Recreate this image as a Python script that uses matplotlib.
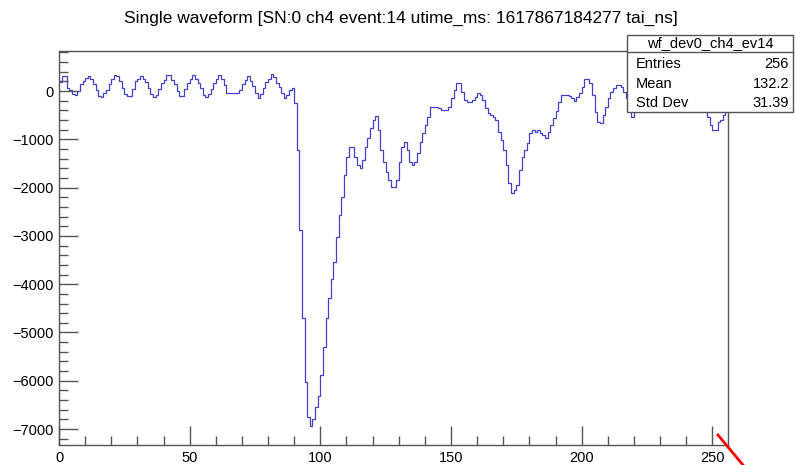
import numpy as np
import matplotlib
matplotlib.use('Agg')
import matplotlib.pyplot as plt
from matplotlib.patches import Rectangle
from matplotlib.lines import Line2D
from matplotlib.ticker import MultipleLocator

plt.rcParams['font.family'] = ['Liberation Sans', 'DejaVu Sans']

# ADC counts per sample (256 bins)
adc = [
    190, 320, 320, 60, 20, -60, -90, 0, 150, 200,                # 0
    280, 320, 250, 150, 20, -100, -130, -40, 30, 150,            # 10
    250, 330, 320, 200, 70, -60, -110, -110, 40, 200,            # 20
    240, 310, 250, 180, 60, -70, -120, -80, 50, 160,             # 30
    230, 330, 330, 220, 140, 0, -110, -100, 40, 160,             # 40
    240, 330, 260, 160, 60, -80, -130, -60, 50, 170,             # 50
    250, 330, 250, 130, -30, -50, -50, -50, -50, 20,             # 60
    150, 230, 320, 200, 100, -50, -140, -60, 60, 180,            # 70
    250, 360, 300, 170, 90, -40, -145, -90, 20, 60,              # 80
    -250, -1220, -2870, -4690, -6030, -6760, -6940, -6800, -6550, -6310,   # 90
    -5870, -5290, -4690, -4280, -3900, -3530, -3020, -2560, -2190, -1740,  # 100
    -1360, -1150, -1150, -1360, -1530, -1600, -1430, -1150, -980, -770,    # 110
    -600, -520, -800, -1220, -1460, -1670, -1840, -1980, -1980, -1840,     # 120
    -1460, -1150, -1050, -1220, -1460, -1530, -1460, -1290, -1050, -870,   # 130
    -700, -530, -340, -340, -340, -360, -390, -390, -390, -340,           # 140
    -150, 20, 160, 160, -15, -185, -230, -230, -185, -120,               # 150
    -50, -80, -185, -360, -460, -490, -530, -600, -840, -1010,           # 160
    -1220, -1530, -1910, -2110, -2050, -1940, -1630, -1360, -1220, -1080,  # 170
    -870, -810, -840, -800, -870, -900, -970, -850, -700, -560,           # 180
    -420, -220, -80, -80, -80, -100, -150, -200, -130, -50,              # 190
    90, 260, 260, 160, -80, -430, -640, -660, -500, -330,                # 200
    -150, -15, 60, 125, 125, 80, -15, -150, -320, -530,                  # 210
    -430, -300, -150, -20, 80, 150, 150, 80, 0, -100,                    # 220
    -150, -80, 30, 120, 180, 220, 150, 60, -50, -120,                    # 230
    -60, 40, 120, 100, 0, -100, -200, -330, -530, -700,                  # 240
    -810, -810, -650, -600, -500, -400,                                  # 250
]
edges = np.arange(len(adc) + 1)

title = "Single waveform [SN:0 ch4 event:14 utime_ms: 1617867184277 tai_ns]"
hist_name = "wf_dev0_ch4_ev14"
stat_labels = ["Entries", "Mean", "Std Dev"]
stat_values = ["256", "132.2", "31.39"]

W, H = 795, 465
fig = plt.figure(figsize=(W / 100, H / 100), dpi=100)

# frame in pixels: x 59..728, y 51..445 (from top)
ax = fig.add_axes([59 / W, (H - 445) / H, (728 - 59) / W, (445 - 51) / H])
ax.stairs(adc, edges, baseline=None, color='#4040cc', lw=0.9)

ax.set_xlim(0, 256)
ax.set_ylim(-7330, 830)
ax.xaxis.set_major_locator(MultipleLocator(50))
ax.xaxis.set_minor_locator(MultipleLocator(10))
ax.yaxis.set_major_locator(MultipleLocator(1000))
ax.yaxis.set_minor_locator(MultipleLocator(200))

frame_col = '#555555'
for sp in ax.spines.values():
    sp.set_color(frame_col)
    sp.set_linewidth(1)
ax.tick_params(which='both', direction='in', color=frame_col, width=1,
               top=False, right=False, labelsize=10.5, labelcolor='black')
ax.tick_params(which='major', length=13.7)
ax.tick_params(which='minor', length=6.8)
ax.tick_params(axis='y', pad=4)
ax.tick_params(axis='x', pad=4)

fig.text(401 / W, 1 - 18 / H, title, ha='center', va='center', fontsize=12.5)

# stats box
bx0, bx1, by0, by1, bsep = 627, 793, 35, 111.7, 51.7
fig.add_artist(Rectangle((bx0 / W, 1 - by1 / H), (bx1 - bx0) / W, (by1 - by0) / H,
                         transform=fig.transFigure, facecolor='white',
                         edgecolor=frame_col, lw=1, zorder=10))
fig.add_artist(Line2D([bx0 / W, bx1 / W], [1 - bsep / H, 1 - bsep / H],
                      transform=fig.transFigure, color=frame_col, lw=1, zorder=11))
fig.text((bx0 + bx1) / 2 / W, 1 - 43.3 / H, hist_name, ha='center', va='center',
         fontsize=10.5, zorder=12)
row_y = [64.3, 84.5, 103.3]
for lab, val, yy in zip(stat_labels, stat_values, row_y):
    fig.text(636 / W, 1 - yy / H, lab, ha='left', va='center', fontsize=10.5, zorder=12)
    fig.text(789 / W, 1 - yy / H, val, ha='right', va='center', fontsize=10.5, zorder=12)

# red stroke at the bottom right corner
fig.add_artist(Line2D([718 / W, 743 / W], [1 - 435 / H, 0.0],
                      transform=fig.transFigure, color='red', lw=2, zorder=12))

fig.savefig('out.png', dpi=100)
